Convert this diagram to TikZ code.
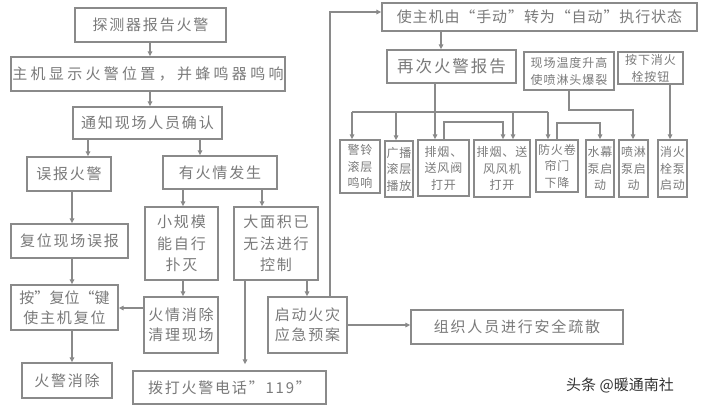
\documentclass[tikz,border=0pt]{standalone}
\usepackage{fontspec}
\usetikzlibrary{arrows.meta}
\newfontfamily\cjk[LetterSpace=12]{Noto Sans CJK SC}
\newfontfamily\cjkwm{Noto Sans CJK SC}
\definecolor{linegray}{HTML}{8A8A8A}
\definecolor{textgray}{HTML}{7A7A7A}
\newcommand\placebox[7][]{%
  \pgfmathsetmacro\bw{#5-#3}\pgfmathsetmacro\bh{#6-#4}%
  \pgfmathsetmacro\bcx{(#3+#5)/2}\pgfmathsetmacro\bcy{(#4+#6)/2}%
  \node[box,minimum width=\bw pt,minimum height=\bh pt,#1] (#2) at (\bcx,\bcy) {#7};}
\begin{document}
\begin{tikzpicture}[x=1pt,y=-1pt,
  box/.style={draw=linegray,line width=1.3pt,inner sep=0pt,align=center,text=textgray,
    font=\cjk\fontsize{15}{21.5}\selectfont},
  small/.style={font=\cjk\fontsize{12}{16.5}\selectfont\addfontfeature{LetterSpace=8}},
  conn/.style={draw=linegray,line width=1.3pt},
  arr/.style={conn,-{Triangle[length=5pt,width=4.5pt]}}]
\useasboundingbox[fill=white] (0,0) rectangle (709,410);
% left column
\placebox{n1}{75}{8}{226}{42}{探测器报告火警}
\placebox{n2}{11}{57}{285}{91}{\addfontfeature{LetterSpace=22}主机显示火警位置，并蜂鸣器鸣响}
\placebox{n3}{73}{107}{222}{139}{通知现场人员确认}
\placebox{n4}{27}{157}{111}{191}{误报火警}
\placebox{n5}{163}{156}{277}{189}{有火情发生}
\placebox{n6}{11}{224}{128}{258}{复位现场误报}
\placebox{n7}{145}{207}{218}{280}{小规模\\能自行\\扑灭}
\placebox{n8}{234}{207}{318}{280}{大面积已\\无法进行\\控制}
\placebox[font=\cjk\fontsize{15}{20}\selectfont]{n9}{11}{285}{118}{330}{\addfontfeature{LetterSpace=0}按”复位“键\\使主机复位}
\placebox[font=\cjk\fontsize{15}{20}\selectfont]{n10}{144}{297}{218}{353}{火情消除\\清理现场}
\placebox[font=\cjk\fontsize{15}{20}\selectfont]{n11}{268}{297}{347}{353}{启动火灾\\应急预案}
\placebox{n12}{22}{363}{112}{398}{火警消除}
\placebox{n13}{133}{371}{326}{404}{拨打火警电话”119”}
\placebox{n14}{411}{310}{623}{344}{组织人员进行安全疏散}
% right part
\placebox{n15}{382}{3}{697}{31}{\addfontfeature{LetterSpace=6}使主机由“手动”转为“自动”执行状态}
\placebox[font=\cjk\fontsize{16.5}{21}\selectfont]{n16}{387}{50}{516}{83}{再次火警报告}
\placebox[font=\cjk\fontsize{12}{17}\selectfont\addfontfeature{LetterSpace=8}]{n17}{524}{52}{614}{90}{现场温度升高\\使喷淋头爆裂}
\placebox[font=\cjk\fontsize{12}{17}\selectfont\addfontfeature{LetterSpace=8}]{n18}{618}{52}{683}{84}{按下消火\\栓按钮}
\placebox[small]{b1}{340}{140}{380}{193}{警铃\\滚层\\鸣响}
\placebox[small]{b2}{385}{141}{413}{197}{广播\\滚层\\播放}
\placebox[small]{b3}{418}{140}{469}{196}{排烟、\\送风阀\\打开}
\placebox[small]{b4}{474}{140}{530}{197}{排烟、送\\风风机\\打开}
\placebox[small]{b5}{536}{140}{578}{192}{防火卷\\帘门\\下降}
\placebox[small]{b6}{586}{140}{614}{197}{水幕\\泵启\\动}
\placebox[small]{b7}{619}{140}{648}{197}{喷淋\\泵启\\动}
\placebox[small]{b8}{658}{140}{687}{197}{消火\\栓泵\\启动}
% connectors, left
\draw[arr] (150,0 |- n1.south) -- (150,0 |- n2.north);
\draw[arr] (150,0 |- n2.south) -- (150,0 |- n3.north);
\draw[arr] (88,0 |- n3.south) -- (88,0 |- n4.north);
\draw[arr] (200,0 |- n3.south) -- (200,0 |- n5.north);
\draw[arr] (72,0 |- n4.south) -- (72,0 |- n6.north);
\draw[arr] (183,0 |- n5.south) -- (183,0 |- n7.north);
\draw[arr] (262,0 |- n5.south) -- (262,0 |- n8.north);
\draw[arr] (72,0 |- n6.south) -- (72,0 |- n9.north);
\draw[arr] (183,0 |- n7.south) -- (183,0 |- n10.north);
\draw[arr] (n10.west |- 0,308) -- (n9.east |- 0,308);
\draw[arr] (72,0 |- n9.south) -- (72,0 |- n12.north);
\draw[arr,shorten >=6pt] (245,0 |- n8.south) -- (245,0 |- n13.north);
\draw[arr] (307,0 |- n8.south) -- (307,0 |- n11.north);
\draw[arr] (n11.east |- 0,325) -- (n14.west |- 0,325);
\draw[arr] (330,0 |- n11.north) |- (n15.west |- 0,12);
% connectors, right
\draw[arr] (441,0 |- n15.south) -- (441,0 |- n16.north);
\draw[arr] (435,0 |- n16.south) -- (435,0 |- b3.north);
\coordinate (busL) at (352,112);
\coordinate (busR) at (548,112);
\draw[conn] (busL) -- (busR);
\draw[arr] (busL) -- (busL |- b1.north);
\draw[arr] (396,112) -- (396,0 |- b2.north);
\draw[arr] (513,112) -- (513,0 |- b4.north);
\draw[arr] (busR) -- (busR |- b5.north);
\draw[arr] (444,0 |- b3.north) -- (444,122) -- (503,122) -- (503,0 |- b4.north);
\draw[arr] (557,0 |- b5.north) -- (557,123) -- (600,123) -- (600,0 |- b6.north);
\draw[arr] (569,0 |- n17.south) -- (569,110) -- (633,110) -- (633,0 |- b7.north);
\draw[arr] (670,0 |- n18.south) -- (670,0 |- b8.north);
% watermark
\node[anchor=west,text=black!80,font=\cjkwm\fontsize{15}{18}\selectfont,inner sep=0pt] (wm) at (566,385) {头条 @暖通南社};
\end{tikzpicture}
\end{document}
